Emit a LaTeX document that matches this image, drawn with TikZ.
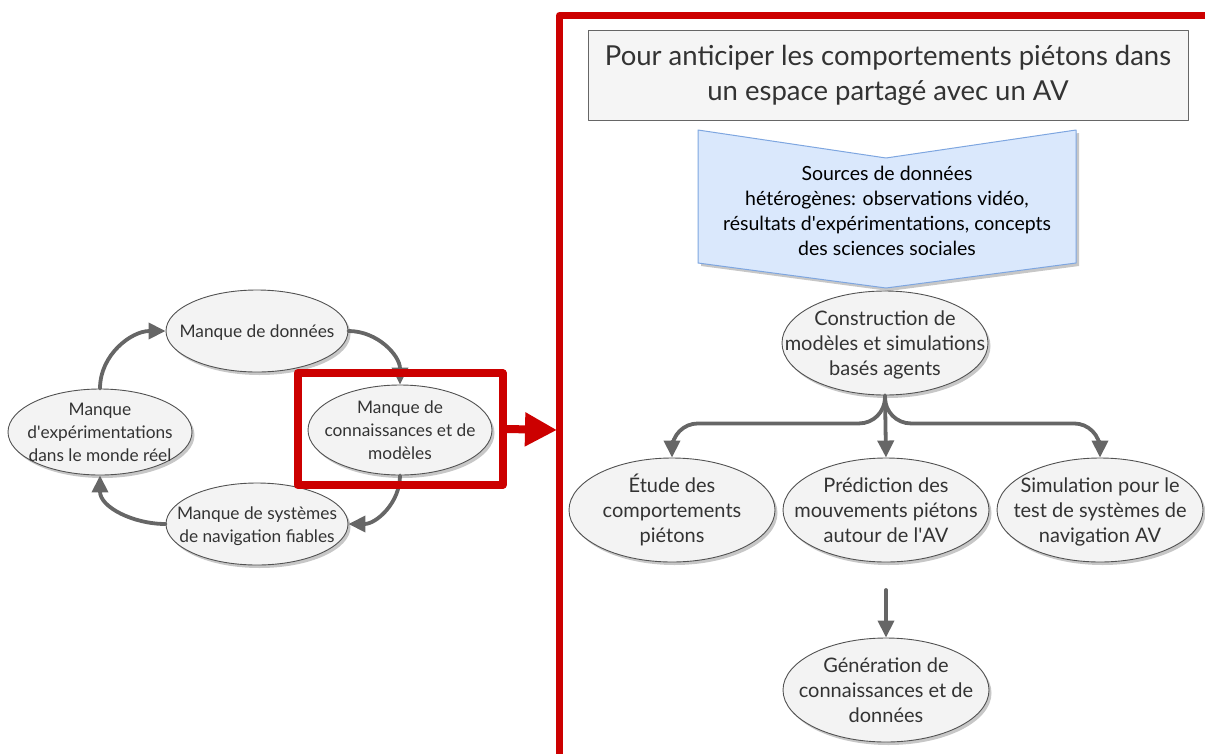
\documentclass[tikz,border=0pt]{standalone}
\usepackage{fontspec}
\setmainfont{Lato}
\usetikzlibrary{shapes.geometric,arrows.meta,shadows,positioning}

\definecolor{fondbulle}{HTML}{F3F3F3}
\definecolor{gris}{HTML}{666666}
\definecolor{rouge}{HTML}{CC0000}
\definecolor{fondbleu}{HTML}{DAE8FC}
\definecolor{bordbleu}{HTML}{7EA6E0}
\definecolor{texte}{HTML}{333333}

% texte centre sans influence sur la taille de l'ellipse
\newcommand{\bloc}[2][0.36em]{\smash{\makebox[0pt]{\raisebox{-#1}{\begin{tabular}{@{}c@{}}#2\end{tabular}}}}}
\newcommand{\apos}{\textquotesingle}

\tikzset{
  bulle/.style={ellipse, draw=gris!80!black, fill=fondbulle, line width=0.9pt,
    inner sep=0pt, text=texte,
    drop shadow={shadow xshift=2.5pt, shadow yshift=-3pt, fill=black!22, opacity=1}},
  petite/.style={bulle, font=\fontsize{17.3}{23}\selectfont},
  grande/.style={bulle, font=\fontsize{20}{25}\selectfont, minimum width=206pt, minimum height=104pt},
  flux/.style={draw=gris, line width=3.8pt, -{Triangle[length=17pt,width=16pt]}},
}

\begin{document}
\begin{tikzpicture}[x=1pt,y=1pt,line cap=round,line join=round]
  \useasboundingbox (0,0) rectangle (1205,-753);

  % cycle de gauche
  \node[petite,minimum width=182pt,minimum height=82pt] (don) at (257,-331) {\bloc{Manque de données}};
  \node[petite,minimum width=184pt,minimum height=86pt] (exp) at (100,-432) {\bloc{Manque\\d\apos expérimentations\\dans le monde réel}};
  \node[petite,minimum width=184pt,minimum height=90pt] (con) at (400,-430) {\bloc{Manque de\\connaissances et de\\modèles}};
  \node[petite,minimum width=182pt,minimum height=82pt] (sys) at (257,-524) {\bloc{Manque de systèmes\\de navigation fiables}};

  \draw[flux] (exp.north) to[out=90,in=180] (don.west);
  \draw[flux] (don.east) to[out=0,in=90] (con.north);
  \draw[flux] (con.south) to[out=-90,in=0] (sys.east);
  \draw[flux] (sys.west) to[out=180,in=-90] (exp.south);

  % mise en evidence
  \node[draw=rouge, line width=8pt, minimum width=205pt, minimum height=112pt] (zoom) at (400,-429) {};
  \coordinate (cadre) at (557,-430);
  \draw[rouge, line width=8pt, -{Triangle[length=32pt,width=32pt]}] (zoom.east) -- (cadre);
  \draw[rouge, line width=7pt, line cap=butt] (559.5,-770) -- (559.5,-15.5) -- (1220,-15.5);

  % objectif
  \node[draw=gris, line width=1pt, fill=fondbulle!80!white, text=texte,
        minimum width=600pt, minimum height=90pt, font=\fontsize{27.5}{35}\selectfont] (but) at (888,-75)
        {\bloc[0.25em]{Pour anticiper les comportements piétons dans\\un espace partagé avec un AV}};

  % sources
  \filldraw[fill=fondbleu, draw=bordbleu, line width=1pt,
     drop shadow={shadow xshift=3pt, shadow yshift=-3pt, fill=black!22, opacity=1}]
     (698,-130) -- (886,-158) -- (1076,-130) -- (1076,-263) -- (886,-288) -- (698,-263) -- cycle;
  \node[align=center, text=black, font=\fontsize{19.5}{25}\selectfont] (src) at (887,-211)
     {Sources de données\\hétérogènes: observations vidéo,\\résultats d\apos expérimentations, concepts\\des sciences sociales};

  % modeles et applications
  \node[grande] (cons) at (885,-343) {\bloc{Construction de\\modèles et simulations\\basés agents}};
  \node[grande] (etu) at (672,-510) {\bloc{Étude des\\comportements\\piétons}};
  \node[grande] (pred) at (886,-510) {\bloc{Prédiction des\\mouvements piétons\\autour de l\apos AV}};
  \node[grande] (simu) at (1100,-510) {\bloc{Simulation pour le\\test de systèmes de\\navigation AV}};
  \node[grande] (gen) at (886,-690) {\bloc{Génération de\\connaissances et de\\données}};

  \draw[flux, rounded corners=26pt] (cons.south) -- ++(0,-28) -| (etu.north);
  \draw[flux] (cons.south) -- (pred.north);
  \draw[flux, rounded corners=26pt] (cons.south) -- ++(0,-28) -| (simu.north);
  \coordinate (amont) at (886,-590);
  \draw[flux] (amont) -- (gen.north);
\end{tikzpicture}
\end{document}
